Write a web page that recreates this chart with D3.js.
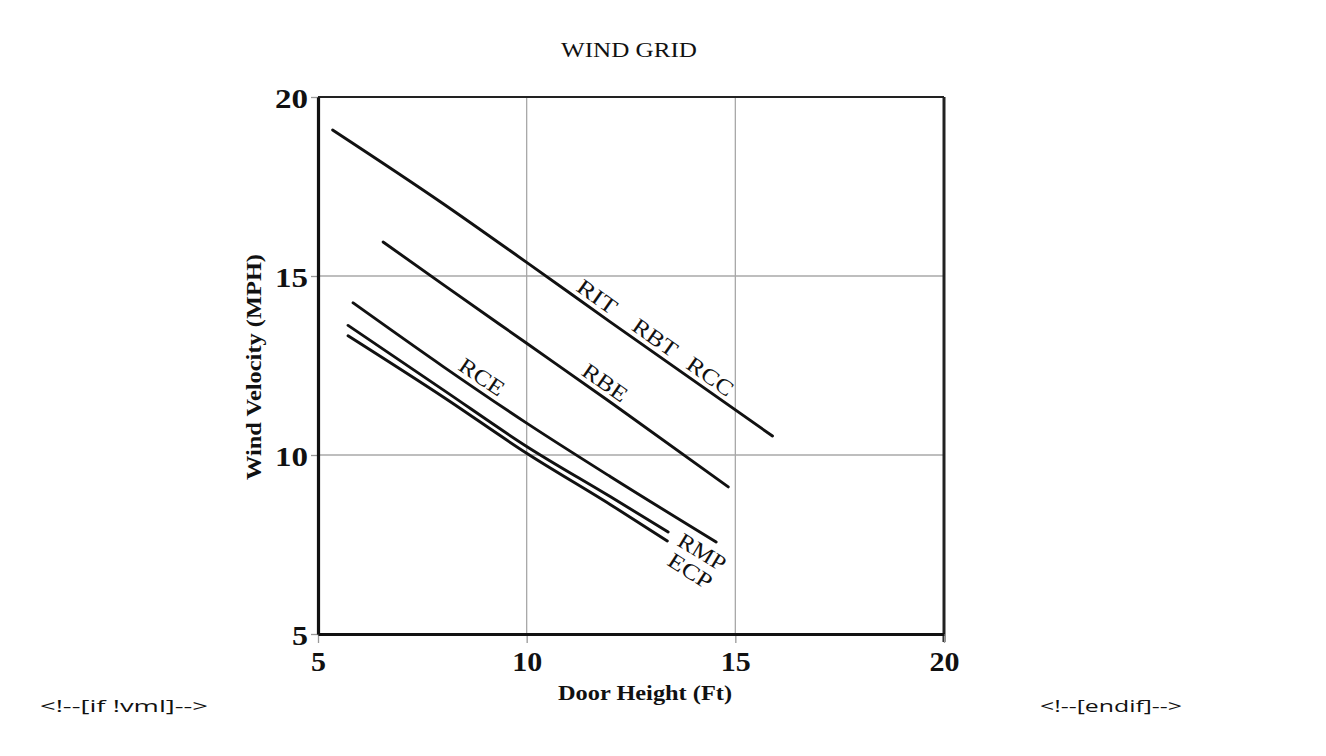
<!DOCTYPE html>
<html>
<head>
<meta charset="utf-8">
<script src="https://cdnjs.cloudflare.com/ajax/libs/d3/7.8.5/d3.min.js"></script>
<style>
  body { margin: 0; background: #fff; }
  svg { display: block; }
  text { font-family: "Liberation Serif", "Times New Roman", serif; fill: #111; }
</style>
</head>
<body>
<svg id="chart" width="1326" height="756"></svg>
<script>
// door height (ft) / wind velocity (mph) pairs
const ritLine = [[5.35, 19.08], [8, 17.02], [10, 15.38], [12, 13.72], [15.89, 10.53]];
const rbeLine = [[6.56, 15.95], [8, 14.76], [10, 13.12], [12, 11.48], [14.83, 9.11]];
const rceLine = [[5.84, 14.25], [8, 12.47], [10, 10.89], [12, 9.40], [14.54, 7.57]];
const rmpLine = [[5.72, 13.62], [8, 11.82], [10, 10.24], [12, 8.84], [13.39, 7.85]];
const ecpLine = [[5.72, 13.33], [8, 11.62], [10, 10.05], [12, 8.62], [13.37, 7.60]];

const seriesLines = [ritLine, rbeLine, rceLine, rmpLine, ecpLine];

const xTicks = [5, 10, 15, 20];
const yTicks = [5, 10, 15, 20];

// labels sitting above a line at a given door height
const onLineLabels = [
  { text: "RIT", line: 0, at: 11.69, len: 44 },
  { text: "RBT", line: 0, at: 13.08, len: 50 },
  { text: "RCC", line: 0, at: 14.40, len: 52 },
  { text: "RBE", line: 1, at: 11.88, len: 50 },
  { text: "RCE", line: 2, at: 8.93, len: 50 }
];
// labels placed past the end of a line
const endLabels = [
  { text: "RMP", line: 3, len: 52 },
  { text: "ECP", line: 4, len: 48 }
];

const svg = d3.select("#chart");

const x = d3.scaleLinear().domain([5, 20]).range([318, 944]);
const y = d3.scaleLinear().domain([5, 20]).range([634, 97]);

// grid
svg.append("g")
  .selectAll("line")
  .data(xTicks.slice(1, -1))
  .enter().append("line")
  .attr("x1", d => x(d)).attr("x2", d => x(d))
  .attr("y1", y(20)).attr("y2", y(5))
  .attr("stroke", "#a8a8a8").attr("stroke-width", 1.3);

svg.append("g")
  .selectAll("line")
  .data(yTicks.slice(1, -1))
  .enter().append("line")
  .attr("x1", x(5)).attr("x2", x(20))
  .attr("y1", d => y(d)).attr("y2", d => y(d))
  .attr("stroke", "#a8a8a8").attr("stroke-width", 1.3);

// top and right frame
svg.append("line")
  .attr("x1", x(5)).attr("x2", x(20)).attr("y1", y(20)).attr("y2", y(20))
  .attr("stroke", "#222").attr("stroke-width", 2.2);
svg.append("line")
  .attr("x1", x(20)).attr("x2", x(20)).attr("y1", y(20)).attr("y2", y(5) + 8)
  .attr("stroke", "#222").attr("stroke-width", 3);

// axes
const xAxis = svg.append("g")
  .attr("transform", `translate(0,${y(5)})`)
  .call(d3.axisBottom(x).tickValues(xTicks).tickSize(9).tickSizeOuter(0).tickPadding(8));

const yAxis = svg.append("g")
  .attr("transform", `translate(${x(5)},0)`)
  .call(d3.axisLeft(y).tickValues(yTicks).tickSize(7).tickSizeOuter(0).tickPadding(3));

[xAxis, yAxis].forEach(g => {
  g.selectAll(".tick line").attr("stroke", "#999").attr("stroke-width", 1.3);
  g.select(".domain").attr("stroke", "#111").attr("stroke-width", 3.2).raise();
  g.selectAll(".tick text")
    .style("font-family", "'Liberation Serif', serif")
    .style("font-size", "28px")
    .style("font-weight", "bold")
    .attr("fill", "#111");
});
xAxis.selectAll(".tick text")
  .attr("textLength", d => d < 10 ? 15 : 30)
  .attr("lengthAdjust", "spacingAndGlyphs");
yAxis.selectAll(".tick text")
  .attr("textLength", d => d < 10 ? 16 : 33)
  .attr("lengthAdjust", "spacingAndGlyphs")
  .attr("dy", "0.38em");

// lines
const line = d3.line()
  .x(d => x(d[0]))
  .y(d => y(d[1]))
  .curve(d3.curveMonotoneX);

svg.append("g")
  .selectAll("path")
  .data(seriesLines)
  .enter().append("path")
  .attr("d", line)
  .attr("fill", "none")
  .attr("stroke", "#111")
  .attr("stroke-width", 2.9)
  .attr("stroke-linecap", "round");

// value on a series at a given door height
function lineY(pts, xv) {
  for (let i = 1; i < pts.length; i++) {
    if (xv <= pts[i][0]) {
      const t = (xv - pts[i - 1][0]) / (pts[i][0] - pts[i - 1][0]);
      return pts[i - 1][1] + t * (pts[i][1] - pts[i - 1][1]);
    }
  }
  return pts[pts.length - 1][1];
}

function pixelAngle(pts, i) {
  const a = pts[i], b = pts[i + 1];
  return Math.atan2(y(b[1]) - y(a[1]), x(b[0]) - x(a[0])) * 180 / Math.PI;
}

onLineLabels.forEach(l => {
  const pts = seriesLines[l.line];
  let seg = pts.findIndex(p => p[0] >= l.at) - 1;
  if (seg < 0) seg = 0;
  const px = x(l.at);
  const py = y(lineY(pts, l.at)) - 16;
  svg.append("text")
    .attr("transform", `translate(${px},${py}) rotate(${pixelAngle(pts, seg)})`)
    .attr("text-anchor", "middle")
    .attr("dominant-baseline", "central")
    .attr("textLength", l.len).attr("lengthAdjust", "spacingAndGlyphs")
    .style("font-size", "22px")
    .text(l.text);
});

endLabels.forEach((l, i) => {
  const pts = seriesLines[l.line];
  const last = pts[pts.length - 1];
  const ang = pixelAngle(pts, pts.length - 2);
  const px = x(last[0]) + (i === 0 ? 34 : 23);
  const py = y(last[1]) + (i === 0 ? 20 : 30);
  svg.append("text")
    .attr("transform", `translate(${px},${py}) rotate(${ang})`)
    .attr("text-anchor", "middle")
    .attr("dominant-baseline", "central")
    .attr("textLength", l.len).attr("lengthAdjust", "spacingAndGlyphs")
    .style("font-size", "22px")
    .text(l.text);
});

// titles
svg.append("text")
  .attr("x", 629).attr("y", 57)
  .attr("text-anchor", "middle")
  .attr("textLength", 136).attr("lengthAdjust", "spacingAndGlyphs")
  .style("font-size", "21px")
  .text("WIND GRID");

svg.append("text")
  .attr("x", 645).attr("y", 700)
  .attr("text-anchor", "middle")
  .attr("textLength", 174).attr("lengthAdjust", "spacingAndGlyphs")
  .style("font-size", "20px").style("font-weight", "bold")
  .text("Door Height (Ft)");

svg.append("text")
  .attr("transform", "translate(261,367) rotate(-90)")
  .attr("text-anchor", "middle")
  .attr("textLength", 226).attr("lengthAdjust", "spacingAndGlyphs")
  .style("font-size", "20px").style("font-weight", "bold")
  .text("Wind Velocity (MPH)");

// stray conditional comments from the source page
svg.append("text")
  .attr("x", 40).attr("y", 712)
  .attr("textLength", 168).attr("lengthAdjust", "spacingAndGlyphs")
  .style("font-family", "'Open Sans', sans-serif").style("font-size", "16px")
  .attr("fill", "#222")
  .text("<!--[if !vml]-->");

svg.append("text")
  .attr("x", 1040).attr("y", 712)
  .attr("textLength", 142).attr("lengthAdjust", "spacingAndGlyphs")
  .style("font-family", "'Open Sans', sans-serif").style("font-size", "16px")
  .attr("fill", "#222")
  .text("<!--[endif]-->");
</script>
</body>
</html>
